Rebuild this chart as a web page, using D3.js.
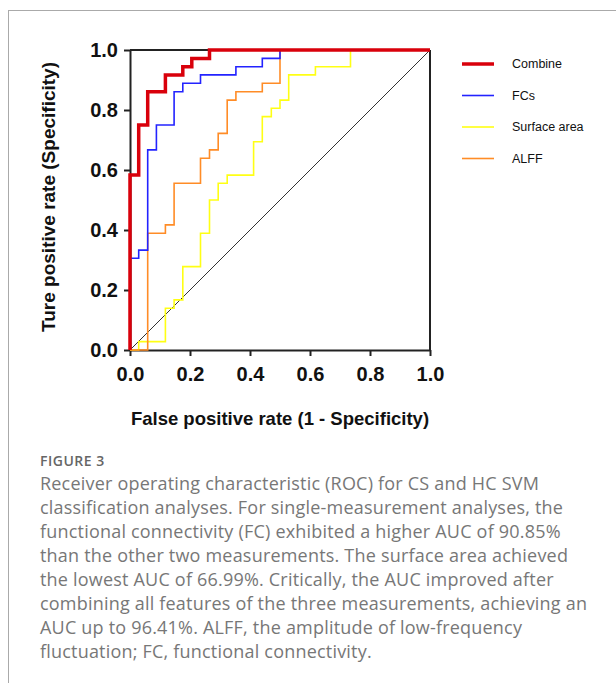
<!DOCTYPE html>
<html><head><meta charset="utf-8">
<script src="https://cdn.jsdelivr.net/npm/d3@7"></script>
<style>
html,body{margin:0;padding:0;background:#fff;}
svg{display:block;}
</style></head>
<body><svg id="c" width="616" height="683"></svg>
<script>
const seriesNames = ["Combine", "FCs", "Surface area", "ALFF"];
const seriesColors = ["#d9000b", "#2323ff", "#ffff14", "#ff8c26"];
const combineFPR = [0, 0, 0.029, 0.059, 0.118, 0.176, 0.206, 0.265, 1.0];
const combineTPR = [0, 0.583, 0.750, 0.861, 0.917, 0.944, 0.972, 1.0, 1.0];
const fcsFPR = [0, 0, 0.029, 0.059, 0.088, 0.147, 0.176, 0.235, 0.353, 0.441, 0.500, 1.0];
const fcsTPR = [0, 0.306, 0.333, 0.667, 0.750, 0.861, 0.889, 0.917, 0.944, 0.972, 1.0, 1.0];
const surfFPR = [0, 0.029, 0.118, 0.147, 0.176, 0.235, 0.265, 0.294, 0.324, 0.412, 0.441, 0.471, 0.500, 0.529, 0.618, 0.735, 1.0];
const surfTPR = [0, 0.028, 0.139, 0.167, 0.278, 0.389, 0.500, 0.556, 0.583, 0.694, 0.778, 0.806, 0.833, 0.917, 0.944, 1.0, 1.0];
const alffFPR = [0, 0.059, 0.118, 0.147, 0.235, 0.265, 0.294, 0.324, 0.353, 0.441, 0.500, 1.0];
const alffTPR = [0, 0.389, 0.417, 0.556, 0.639, 0.667, 0.722, 0.833, 0.861, 0.889, 1.0, 1.0];
const tickValues = [0, 0.2, 0.4, 0.6, 0.8, 1.0];
const xTitle = "False positive rate (1 - Specificity)";
const yTitle = "Ture positive rate (Specificity)";
const figLabel = "FIGURE 3";
const captionLines = [
  "Receiver operating characteristic (ROC) for CS and HC SVM",
  "classification analyses. For single-measurement analyses, the",
  "functional connectivity (FC) exhibited a higher AUC of 90.85%",
  "than the other two measurements. The surface area achieved",
  "the lowest AUC of 66.99%. Critically, the AUC improved after",
  "combining all features of the three measurements, achieving an",
  "AUC up to 96.41%. ALFF, the amplitude of low-frequency",
  "fluctuation; FC, functional connectivity."
];

const svg = d3.select("#c");
// page frame
svg.append("line").attr("x1",8).attr("x2",616).attr("y1",10.5).attr("y2",10.5).attr("stroke","#aaa").attr("stroke-width",1);
svg.append("line").attr("x1",8.5).attr("x2",8.5).attr("y1",10).attr("y2",683).attr("stroke","#aaa").attr("stroke-width",1);

const x = d3.scaleLinear().domain([0,1]).range([130,430]);
const y = d3.scaleLinear().domain([0,1]).range([350,50]);
const axisColor = "#222";
const font = "Liberation Sans, Arial, sans-serif";
const capFont = "Open Sans, Lato, sans-serif";

// frame top/right
svg.append("line").attr("x1",x(0)).attr("x2",x(1)).attr("y1",y(1)).attr("y2",y(1)).attr("stroke",axisColor).attr("stroke-width",2);
svg.append("line").attr("x1",x(1)).attr("x2",x(1)).attr("y1",y(1)).attr("y2",y(0)).attr("stroke",axisColor).attr("stroke-width",2);

// diagonal
svg.append("line").attr("x1",x(0)).attr("y1",y(0)).attr("x2",x(1)).attr("y2",y(1)).attr("stroke","#333").attr("stroke-width",1);

const xa = svg.append("g").attr("transform",`translate(0,${y(0)})`)
  .call(d3.axisBottom(x).tickValues(tickValues).tickFormat(d3.format(".1f")).tickSize(6).tickSizeOuter(0).tickPadding(11));
const ya = svg.append("g").attr("transform",`translate(${x(0)},0)`)
  .call(d3.axisLeft(y).tickValues(tickValues).tickFormat(d3.format(".1f")).tickSize(6).tickSizeOuter(0).tickPadding(6));
[xa,ya].forEach(g=>{
  g.select(".domain").attr("stroke",axisColor).attr("stroke-width",2);
  g.selectAll(".tick line").attr("stroke",axisColor).attr("stroke-width",2);
  g.selectAll(".tick text").attr("fill","#111").style("font-family",font).style("font-weight","bold").style("font-size","20px");
});

const data = [
  {fpr: combineFPR, tpr: combineTPR, w: 3.5},
  {fpr: fcsFPR, tpr: fcsTPR, w: 1.6},
  {fpr: surfFPR, tpr: surfTPR, w: 1.6},
  {fpr: alffFPR, tpr: alffTPR, w: 1.6}
];
const line = d3.line().x(d=>x(d[0])).y(d=>y(d[1])).curve(d3.curveStepAfter);
const order = [2,3,1,0];
order.forEach(i=>{
  const s = data[i];
  const pts = s.fpr.map((f,j)=>[f, s.tpr[j]]);
  svg.append("path").attr("d", line(pts)).attr("fill","none")
    .attr("stroke", seriesColors[i]).attr("stroke-width", s.w).attr("stroke-linejoin","miter");
});

// axis titles
svg.append("text").attr("x",280).attr("y",425).attr("text-anchor","middle")
  .style("font-family",font).style("font-weight","bold").style("font-size","18.5px").attr("fill","#111").text(xTitle);
svg.append("text").attr("transform","translate(55,197) rotate(-90)").attr("text-anchor","middle")
  .style("font-family",font).style("font-weight","bold").style("font-size","19px").attr("fill","#111").text(yTitle);

// legend
const lg = svg.append("g");
seriesNames.forEach((n,i)=>{
  const yy = 64 + i*31.5;
  lg.append("line").attr("x1",462).attr("x2",494).attr("y1",yy).attr("y2",yy)
    .attr("stroke",seriesColors[i]).attr("stroke-width", data[i].w);
  lg.append("text").attr("x",512).attr("y",yy).attr("dy","0.35em")
    .style("font-family",font).style("font-size","12.5px").attr("fill","#111").text(n);
});

// caption
svg.append("text").attr("x",40).attr("y",466).style("font-family",capFont)
  .style("font-size","14px").style("font-weight","600").style("letter-spacing","0.5px").attr("fill","#666").text(figLabel);
captionLines.forEach((t,i)=>{
  svg.append("text").attr("x",40).attr("y",490 + i*24).style("font-family",capFont)
    .style("font-size","18px").style("letter-spacing","0.2px").attr("fill","#777").text(t);
});
</script></body></html>
